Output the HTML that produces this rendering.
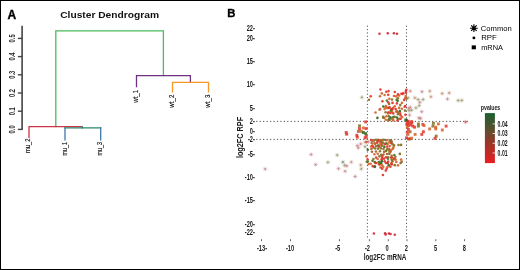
<!DOCTYPE html>
<html><head><meta charset="utf-8"><style>
html,body{margin:0;padding:0;background:#fff;}
svg{display:block;font-family:"Liberation Sans", sans-serif;will-change:transform;}
</style></head><body>
<svg width="520" height="270" viewBox="0 0 520 270">
<rect x="0" y="0" width="520" height="270" fill="#fff"/>
<text x="7.4" y="18.6" font-size="12" font-weight="bold" fill="#000" stroke="#000" stroke-width="0.35">A</text>
<text x="60.2" y="17.6" font-size="9.7" font-weight="bold" fill="#111" textLength="98.8" lengthAdjust="spacingAndGlyphs">Cluster Dendrogram</text>
<line x1="22.1" y1="25.7" x2="22.1" y2="130" stroke="#444" stroke-width="1.6"/>
<line x1="17.9" y1="129.4" x2="22.1" y2="129.4" stroke="#444" stroke-width="1.4"/>
<text transform="translate(15.4,129.4) rotate(-90) scale(0.68,1)" font-size="8.5" text-anchor="middle" font-weight="bold" fill="#2a2a2a" >0.0</text>
<line x1="17.9" y1="111.2" x2="22.1" y2="111.2" stroke="#444" stroke-width="1.4"/>
<text transform="translate(15.4,111.2) rotate(-90) scale(0.68,1)" font-size="8.5" text-anchor="middle" font-weight="bold" fill="#2a2a2a" >0.1</text>
<line x1="17.9" y1="93.0" x2="22.1" y2="93.0" stroke="#444" stroke-width="1.4"/>
<text transform="translate(15.4,93.0) rotate(-90) scale(0.68,1)" font-size="8.5" text-anchor="middle" font-weight="bold" fill="#2a2a2a" >0.2</text>
<line x1="17.9" y1="74.8" x2="22.1" y2="74.8" stroke="#444" stroke-width="1.4"/>
<text transform="translate(15.4,74.8) rotate(-90) scale(0.68,1)" font-size="8.5" text-anchor="middle" font-weight="bold" fill="#2a2a2a" >0.3</text>
<line x1="17.9" y1="56.6" x2="22.1" y2="56.6" stroke="#444" stroke-width="1.4"/>
<text transform="translate(15.4,56.6) rotate(-90) scale(0.68,1)" font-size="8.5" text-anchor="middle" font-weight="bold" fill="#2a2a2a" >0.4</text>
<line x1="17.9" y1="38.4" x2="22.1" y2="38.4" stroke="#444" stroke-width="1.4"/>
<text transform="translate(15.4,38.4) rotate(-90) scale(0.68,1)" font-size="8.5" text-anchor="middle" font-weight="bold" fill="#2a2a2a" >0.5</text>
<path d="M55.8,126.6 L55.8,30.8 L163.4,30.8 L163.4,75.6" fill="none" stroke="#4cba5d" stroke-width="1.3" stroke-linecap="square" stroke-linejoin="miter"/>
<path d="M29,137.3 L29,126.6 L82.2,126.6" fill="none" stroke="#cd3447" stroke-width="1.3" stroke-linecap="square" stroke-linejoin="miter"/>
<path d="M82.2,126.6 L82.2,127.8" fill="none" stroke="#2d8769" stroke-width="1.3" stroke-linecap="square" stroke-linejoin="miter"/>
<path d="M65,127.8 L100.7,127.8" fill="none" stroke="#2d8769" stroke-width="1.3" stroke-linecap="square" stroke-linejoin="miter"/>
<path d="M65,127.8 L65,139.8" fill="none" stroke="#3c78aa" stroke-width="1.3" stroke-linecap="square" stroke-linejoin="miter"/>
<path d="M100.7,127.8 L100.7,139.8" fill="none" stroke="#3c78aa" stroke-width="1.3" stroke-linecap="square" stroke-linejoin="miter"/>
<path d="M136.5,86.6 L136.5,75.6 L190.4,75.6 L190.4,82.4" fill="none" stroke="#6e3282" stroke-width="1.3" stroke-linecap="square" stroke-linejoin="miter"/>
<path d="M172.5,91.9 L172.5,82.4 L208.5,82.4 L208.5,91.9" fill="none" stroke="#f59628" stroke-width="1.3" stroke-linecap="square" stroke-linejoin="miter"/>
<text transform="translate(30.099999999999998,138.5) rotate(-90)" font-size="7.5" text-anchor="end" fill="#111" stroke="#111" stroke-width="0.15" textLength="14.5" lengthAdjust="spacingAndGlyphs">mu_2</text>
<text transform="translate(66.5,141.9) rotate(-90)" font-size="7.5" text-anchor="end" fill="#111" stroke="#111" stroke-width="0.15" textLength="13.7" lengthAdjust="spacingAndGlyphs">mu_1</text>
<text transform="translate(102.2,141.9) rotate(-90)" font-size="7.5" text-anchor="end" fill="#111" stroke="#111" stroke-width="0.15" textLength="13.7" lengthAdjust="spacingAndGlyphs">mu_3</text>
<text transform="translate(137.9,89.9) rotate(-90)" font-size="7.5" text-anchor="end" fill="#111" stroke="#111" stroke-width="0.15" textLength="12.8" lengthAdjust="spacingAndGlyphs">wt_1</text>
<text transform="translate(173.8,94.7) rotate(-90)" font-size="7.5" text-anchor="end" fill="#111" stroke="#111" stroke-width="0.15" textLength="13.0" lengthAdjust="spacingAndGlyphs">wt_2</text>
<text transform="translate(209.8,94.7) rotate(-90)" font-size="7.5" text-anchor="end" fill="#111" stroke="#111" stroke-width="0.15" textLength="13.0" lengthAdjust="spacingAndGlyphs">wt_3</text>
<text x="227.2" y="16.9" font-size="11.3" font-weight="bold" fill="#000" stroke="#000" stroke-width="0.35">B</text>
<text transform="translate(254.9,30.900000000000002) scale(0.66,1)" font-size="8.6" text-anchor="end" font-weight="bold" fill="#1a1a1a" >22-</text>
<text transform="translate(254.9,40.800000000000004) scale(0.66,1)" font-size="8.6" text-anchor="end" font-weight="bold" fill="#1a1a1a" >20-</text>
<text transform="translate(254.9,63.6) scale(0.66,1)" font-size="8.6" text-anchor="end" font-weight="bold" fill="#1a1a1a" >15-</text>
<text transform="translate(254.9,86.6) scale(0.66,1)" font-size="8.6" text-anchor="end" font-weight="bold" fill="#1a1a1a" >10-</text>
<text transform="translate(254.9,110.5) scale(0.66,1)" font-size="8.6" text-anchor="end" font-weight="bold" fill="#1a1a1a" >5-</text>
<text transform="translate(254.9,123.89999999999999) scale(0.66,1)" font-size="8.6" text-anchor="end" font-weight="bold" fill="#1a1a1a" >2-</text>
<text transform="translate(254.9,134.29999999999998) scale(0.66,1)" font-size="8.6" text-anchor="end" font-weight="bold" fill="#1a1a1a" >0-</text>
<text transform="translate(254.9,142.2) scale(0.66,1)" font-size="8.6" text-anchor="end" font-weight="bold" fill="#1a1a1a" >-2-</text>
<text transform="translate(254.9,157.0) scale(0.66,1)" font-size="8.6" text-anchor="end" font-weight="bold" fill="#1a1a1a" >-5-</text>
<text transform="translate(254.9,180.0) scale(0.66,1)" font-size="8.6" text-anchor="end" font-weight="bold" fill="#1a1a1a" >-10-</text>
<text transform="translate(254.9,203.2) scale(0.66,1)" font-size="8.6" text-anchor="end" font-weight="bold" fill="#1a1a1a" >-15-</text>
<text transform="translate(254.9,226.5) scale(0.66,1)" font-size="8.6" text-anchor="end" font-weight="bold" fill="#1a1a1a" >-20-</text>
<text transform="translate(254.9,235.4) scale(0.66,1)" font-size="8.6" text-anchor="end" font-weight="bold" fill="#1a1a1a" >-22-</text>
<text x="363.7" y="259.6" font-size="9.8" font-weight="bold" fill="#1a1a1a" textLength="42.6" lengthAdjust="spacingAndGlyphs">log2FC mRNA</text>
<text transform="translate(243.3,158.1) rotate(-90)" font-size="9.6" font-weight="bold" fill="#1a1a1a" textLength="41.2" lengthAdjust="spacingAndGlyphs">log2FC RPF</text>
<line x1="261.5" y1="239.2" x2="261.5" y2="241.2" stroke="#555" stroke-width="0.9"/>
<text transform="translate(262.0,251.0) scale(0.66,1)" font-size="8.6" text-anchor="middle" font-weight="bold" fill="#1a1a1a" >-13-</text>
<line x1="290.5" y1="239.2" x2="290.5" y2="241.2" stroke="#555" stroke-width="0.9"/>
<text transform="translate(290.0,251.0) scale(0.66,1)" font-size="8.6" text-anchor="middle" font-weight="bold" fill="#1a1a1a" >-10</text>
<line x1="339.5" y1="239.2" x2="339.5" y2="241.2" stroke="#555" stroke-width="0.9"/>
<text transform="translate(337.7,251.0) scale(0.66,1)" font-size="8.6" text-anchor="middle" font-weight="bold" fill="#1a1a1a" >-5</text>
<line x1="369.4" y1="239.2" x2="369.4" y2="241.2" stroke="#555" stroke-width="0.9"/>
<text transform="translate(367.4,251.0) scale(0.66,1)" font-size="8.6" text-anchor="middle" font-weight="bold" fill="#1a1a1a" >-2</text>
<line x1="388.3" y1="239.2" x2="388.3" y2="241.2" stroke="#555" stroke-width="0.9"/>
<text transform="translate(387.1,251.0) scale(0.66,1)" font-size="8.6" text-anchor="middle" font-weight="bold" fill="#1a1a1a" >0</text>
<line x1="407.0" y1="239.2" x2="407.0" y2="241.2" stroke="#555" stroke-width="0.9"/>
<text transform="translate(406.4,251.0) scale(0.66,1)" font-size="8.6" text-anchor="middle" font-weight="bold" fill="#1a1a1a" >2</text>
<line x1="435.8" y1="239.2" x2="435.8" y2="241.2" stroke="#555" stroke-width="0.9"/>
<text transform="translate(435.6,251.0) scale(0.66,1)" font-size="8.6" text-anchor="middle" font-weight="bold" fill="#1a1a1a" >5</text>
<line x1="464.6" y1="239.2" x2="464.6" y2="241.2" stroke="#555" stroke-width="0.9"/>
<text transform="translate(464.4,251.0) scale(0.66,1)" font-size="8.6" text-anchor="middle" font-weight="bold" fill="#1a1a1a" >8</text>
<line x1="367.4" y1="25.6" x2="367.4" y2="238" stroke="#444" stroke-width="0.95" stroke-dasharray="1.1 2.3"/>
<line x1="406.5" y1="25.6" x2="406.5" y2="238" stroke="#444" stroke-width="0.95" stroke-dasharray="1.1 2.3"/>
<line x1="256.2" y1="121.4" x2="468" y2="121.4" stroke="#444" stroke-width="0.95" stroke-dasharray="1.2 2.25"/>
<line x1="256.2" y1="139.4" x2="470" y2="139.4" stroke="#444" stroke-width="0.95" stroke-dasharray="1.2 2.25"/>
<path d="M470.00,28.20L477.80,28.20M471.14,25.44L476.66,30.96M473.90,24.30L473.90,32.10M476.66,25.44L471.14,30.96" stroke="#000" stroke-width="1.15" fill="none" opacity="1"/>
<circle cx="473.9" cy="28.2" r="1.6" fill="#000"/>
<circle cx="473.9" cy="37.9" r="1.45" fill="#000"/>
<rect x="471.7" y="45.4" width="4.2" height="3.9" fill="#000"/>
<text x="480.8" y="30.7" font-size="7.4" fill="#000" textLength="31" lengthAdjust="spacingAndGlyphs">Common</text>
<text x="481.2" y="39.9" font-size="7.2" fill="#000" textLength="15.6" lengthAdjust="spacingAndGlyphs">RPF</text>
<text x="481.2" y="49.8" font-size="7.2" fill="#000" textLength="21.8" lengthAdjust="spacingAndGlyphs">mRNA</text>
<defs><linearGradient id="cb" x1="0" y1="0" x2="0" y2="1"><stop offset="0" stop-color="#1a6030"/><stop offset="0.4" stop-color="#694b2d"/><stop offset="0.58" stop-color="#963728"/><stop offset="1" stop-color="#ea1c22"/></linearGradient></defs>
<rect x="484.9" y="113.1" width="10" height="50" fill="url(#cb)"/>
<line x1="492.6" y1="123.9" x2="494.9" y2="123.9" stroke="#fff" stroke-width="0.8"/>
<text transform="translate(497.6,126.65) scale(0.62,1)" font-size="8.3" text-anchor="start" font-weight="bold" fill="#1a1a1a" >0.04</text>
<line x1="492.6" y1="133.5" x2="494.9" y2="133.5" stroke="#fff" stroke-width="0.8"/>
<text transform="translate(497.6,136.25) scale(0.62,1)" font-size="8.3" text-anchor="start" font-weight="bold" fill="#1a1a1a" >0.03</text>
<line x1="492.6" y1="143.3" x2="494.9" y2="143.3" stroke="#fff" stroke-width="0.8"/>
<text transform="translate(497.6,146.05) scale(0.62,1)" font-size="8.3" text-anchor="start" font-weight="bold" fill="#1a1a1a" >0.02</text>
<line x1="492.6" y1="153.0" x2="494.9" y2="153.0" stroke="#fff" stroke-width="0.8"/>
<text transform="translate(497.6,155.75) scale(0.62,1)" font-size="8.3" text-anchor="start" font-weight="bold" fill="#1a1a1a" >0.01</text>
<text transform="translate(480.8,109.7) scale(0.68,1)" font-size="7.7" text-anchor="start" font-weight="bold" fill="#1a1a1a" >pvalues</text>
<path d="M359.60,97.30L364.20,97.30M360.27,95.67L363.53,98.93M361.90,95.00L361.90,99.60M363.53,95.67L360.27,98.93" stroke="#8a8a5a" stroke-width="0.75" fill="none" opacity="0.45"/>
<circle cx="361.9" cy="97.3" r="0.9" fill="#8a8a5a" opacity="0.45"/>
<path d="M408.00,91.10L412.60,91.10M408.67,89.47L411.93,92.73M410.30,88.80L410.30,93.40M411.93,89.47L408.67,92.73" stroke="#c0707a" stroke-width="0.75" fill="none" opacity="0.45"/>
<circle cx="410.3" cy="91.1" r="0.9" fill="#c0707a" opacity="0.45"/>
<path d="M405.80,97.80L410.40,97.80M406.47,96.17L409.73,99.43M408.10,95.50L408.10,100.10M409.73,96.17L406.47,99.43" stroke="#8a8a5a" stroke-width="0.75" fill="none" opacity="0.45"/>
<circle cx="408.1" cy="97.8" r="0.9" fill="#8a8a5a" opacity="0.45"/>
<path d="M412.50,97.80L417.10,97.80M413.17,96.17L416.43,99.43M414.80,95.50L414.80,100.10M416.43,96.17L413.17,99.43" stroke="#b88058" stroke-width="0.75" fill="none" opacity="0.45"/>
<circle cx="414.8" cy="97.8" r="0.9" fill="#b88058" opacity="0.45"/>
<path d="M415.80,99.50L420.40,99.50M416.47,97.87L419.73,101.13M418.10,97.20L418.10,101.80M419.73,97.87L416.47,101.13" stroke="#8a8a5a" stroke-width="0.75" fill="none" opacity="0.45"/>
<circle cx="418.1" cy="99.5" r="0.9" fill="#8a8a5a" opacity="0.45"/>
<path d="M419.70,91.70L424.30,91.70M420.37,90.07L423.63,93.33M422.00,89.40L422.00,94.00M423.63,90.07L420.37,93.33" stroke="#c0707a" stroke-width="0.75" fill="none" opacity="0.45"/>
<circle cx="422" cy="91.7" r="0.9" fill="#c0707a" opacity="0.45"/>
<path d="M420.80,99.50L425.40,99.50M421.47,97.87L424.73,101.13M423.10,97.20L423.10,101.80M424.73,97.87L421.47,101.13" stroke="#8a8a5a" stroke-width="0.75" fill="none" opacity="0.45"/>
<circle cx="423.1" cy="99.5" r="0.9" fill="#8a8a5a" opacity="0.45"/>
<path d="M427.50,91.10L432.10,91.10M428.17,89.47L431.43,92.73M429.80,88.80L429.80,93.40M431.43,89.47L428.17,92.73" stroke="#b88058" stroke-width="0.75" fill="none" opacity="0.45"/>
<circle cx="429.8" cy="91.1" r="0.9" fill="#b88058" opacity="0.45"/>
<path d="M428.60,96.70L433.20,96.70M429.27,95.07L432.53,98.33M430.90,94.40L430.90,99.00M432.53,95.07L429.27,98.33" stroke="#b88058" stroke-width="0.75" fill="none" opacity="0.45"/>
<circle cx="430.9" cy="96.7" r="0.9" fill="#b88058" opacity="0.45"/>
<path d="M439.90,93.50L444.50,93.50M440.57,91.87L443.83,95.13M442.20,91.20L442.20,95.80M443.83,91.87L440.57,95.13" stroke="#b88058" stroke-width="0.75" fill="none" opacity="0.45"/>
<circle cx="442.2" cy="93.5" r="0.9" fill="#b88058" opacity="0.45"/>
<path d="M417.50,102.30L422.10,102.30M418.17,100.67L421.43,103.93M419.80,100.00L419.80,104.60M421.43,100.67L418.17,103.93" stroke="#c0707a" stroke-width="0.75" fill="none" opacity="0.45"/>
<circle cx="419.8" cy="102.3" r="0.9" fill="#c0707a" opacity="0.45"/>
<path d="M416.90,105.60L421.50,105.60M417.57,103.97L420.83,107.23M419.20,103.30L419.20,107.90M420.83,103.97L417.57,107.23" stroke="#8a8a5a" stroke-width="0.75" fill="none" opacity="0.45"/>
<circle cx="419.2" cy="105.6" r="0.9" fill="#8a8a5a" opacity="0.45"/>
<path d="M413.60,107.90L418.20,107.90M414.27,106.27L417.53,109.53M415.90,105.60L415.90,110.20M417.53,106.27L414.27,109.53" stroke="#8a8a5a" stroke-width="0.75" fill="none" opacity="0.45"/>
<circle cx="415.9" cy="107.9" r="0.9" fill="#8a8a5a" opacity="0.45"/>
<path d="M408.00,107.30L412.60,107.30M408.67,105.67L411.93,108.93M410.30,105.00L410.30,109.60M411.93,105.67L408.67,108.93" stroke="#c0707a" stroke-width="0.75" fill="none" opacity="0.45"/>
<circle cx="410.3" cy="107.3" r="0.9" fill="#c0707a" opacity="0.45"/>
<path d="M406.30,108.40L410.90,108.40M406.97,106.77L410.23,110.03M408.60,106.10L408.60,110.70M410.23,106.77L406.97,110.03" stroke="#c0707a" stroke-width="0.75" fill="none" opacity="0.45"/>
<circle cx="408.6" cy="108.4" r="0.9" fill="#c0707a" opacity="0.45"/>
<path d="M446.90,92.90L451.50,92.90M447.57,91.27L450.83,94.53M449.20,90.60L449.20,95.20M450.83,91.27L447.57,94.53" stroke="#b88058" stroke-width="0.75" fill="none" opacity="0.45"/>
<circle cx="449.2" cy="92.9" r="0.9" fill="#b88058" opacity="0.45"/>
<path d="M445.20,99.00L449.80,99.00M445.87,97.37L449.13,100.63M447.50,96.70L447.50,101.30M449.13,97.37L445.87,100.63" stroke="#c0707a" stroke-width="0.75" fill="none" opacity="0.45"/>
<circle cx="447.5" cy="99" r="0.9" fill="#c0707a" opacity="0.45"/>
<path d="M455.90,100.50L460.50,100.50M456.57,98.87L459.83,102.13M458.20,98.20L458.20,102.80M459.83,98.87L456.57,102.13" stroke="#8a8a5a" stroke-width="0.75" fill="none" opacity="0.45"/>
<circle cx="458.2" cy="100.5" r="0.9" fill="#8a8a5a" opacity="0.45"/>
<path d="M459.50,100.40L464.10,100.40M460.17,98.77L463.43,102.03M461.80,98.10L461.80,102.70M463.43,98.77L460.17,102.03" stroke="#8a8a5a" stroke-width="0.75" fill="none" opacity="0.45"/>
<circle cx="461.8" cy="100.4" r="0.9" fill="#8a8a5a" opacity="0.45"/>
<path d="M419.40,111.70L424.00,111.70M420.07,110.07L423.33,113.33M421.70,109.40L421.70,114.00M423.33,110.07L420.07,113.33" stroke="#c0707a" stroke-width="0.75" fill="none" opacity="0.45"/>
<circle cx="421.7" cy="111.7" r="0.9" fill="#c0707a" opacity="0.45"/>
<path d="M418.30,118.40L422.90,118.40M418.97,116.77L422.23,120.03M420.60,116.10L420.60,120.70M422.23,116.77L418.97,120.03" stroke="#c0707a" stroke-width="0.75" fill="none" opacity="0.45"/>
<circle cx="420.6" cy="118.4" r="0.9" fill="#c0707a" opacity="0.45"/>
<path d="M463.30,122.00L467.90,122.00M463.97,120.37L467.23,123.63M465.60,119.70L465.60,124.30M467.23,120.37L463.97,123.63" stroke="#d03040" stroke-width="0.75" fill="none" opacity="0.45"/>
<circle cx="465.6" cy="122" r="0.9" fill="#d03040" opacity="0.45"/>
<path d="M406.80,110.60L411.40,110.60M407.47,108.97L410.73,112.23M409.10,108.30L409.10,112.90M410.73,108.97L407.47,112.23" stroke="#8a8a5a" stroke-width="0.75" fill="none" opacity="0.45"/>
<circle cx="409.1" cy="110.6" r="0.9" fill="#8a8a5a" opacity="0.45"/>
<path d="M409.30,110.20L413.90,110.20M409.97,108.57L413.23,111.83M411.60,107.90L411.60,112.50M413.23,108.57L409.97,111.83" stroke="#8a8a5a" stroke-width="0.75" fill="none" opacity="0.45"/>
<circle cx="411.6" cy="110.2" r="0.9" fill="#8a8a5a" opacity="0.45"/>
<path d="M407.20,115.10L411.80,115.10M407.87,113.47L411.13,116.73M409.50,112.80L409.50,117.40M411.13,113.47L407.87,116.73" stroke="#c0707a" stroke-width="0.75" fill="none" opacity="0.45"/>
<circle cx="409.5" cy="115.1" r="0.9" fill="#c0707a" opacity="0.45"/>
<path d="M416.60,117.90L421.20,117.90M417.27,116.27L420.53,119.53M418.90,115.60L418.90,120.20M420.53,116.27L417.27,119.53" stroke="#c0707a" stroke-width="0.75" fill="none" opacity="0.45"/>
<circle cx="418.9" cy="117.9" r="0.9" fill="#c0707a" opacity="0.45"/>
<path d="M358.40,143.90L363.00,143.90M359.07,142.27L362.33,145.53M360.70,141.60L360.70,146.20M362.33,142.27L359.07,145.53" stroke="#c0707a" stroke-width="0.75" fill="none" opacity="0.45"/>
<circle cx="360.7" cy="143.9" r="0.9" fill="#c0707a" opacity="0.45"/>
<path d="M355.00,145.60L359.60,145.60M355.67,143.97L358.93,147.23M357.30,143.30L357.30,147.90M358.93,143.97L355.67,147.23" stroke="#c0707a" stroke-width="0.75" fill="none" opacity="0.45"/>
<circle cx="357.3" cy="145.6" r="0.9" fill="#c0707a" opacity="0.45"/>
<path d="M356.10,147.80L360.70,147.80M356.77,146.17L360.03,149.43M358.40,145.50L358.40,150.10M360.03,146.17L356.77,149.43" stroke="#c0707a" stroke-width="0.75" fill="none" opacity="0.45"/>
<circle cx="358.4" cy="147.8" r="0.9" fill="#c0707a" opacity="0.45"/>
<path d="M362.80,146.70L367.40,146.70M363.47,145.07L366.73,148.33M365.10,144.40L365.10,149.00M366.73,145.07L363.47,148.33" stroke="#8a8a5a" stroke-width="0.75" fill="none" opacity="0.45"/>
<circle cx="365.1" cy="146.7" r="0.9" fill="#8a8a5a" opacity="0.45"/>
<path d="M366.20,141.70L370.80,141.70M366.87,140.07L370.13,143.33M368.50,139.40L368.50,144.00M370.13,140.07L366.87,143.33" stroke="#c0707a" stroke-width="0.75" fill="none" opacity="0.45"/>
<circle cx="368.5" cy="141.7" r="0.9" fill="#c0707a" opacity="0.45"/>
<path d="M334.90,155.10L339.50,155.10M335.57,153.47L338.83,156.73M337.20,152.80L337.20,157.40M338.83,153.47L335.57,156.73" stroke="#8a8a5a" stroke-width="0.75" fill="none" opacity="0.45"/>
<circle cx="337.2" cy="155.1" r="0.9" fill="#8a8a5a" opacity="0.45"/>
<path d="M308.80,154.50L313.40,154.50M309.47,152.87L312.73,156.13M311.10,152.20L311.10,156.80M312.73,152.87L309.47,156.13" stroke="#c0707a" stroke-width="0.75" fill="none" opacity="0.45"/>
<circle cx="311.1" cy="154.5" r="0.9" fill="#c0707a" opacity="0.45"/>
<path d="M325.60,162.30L330.20,162.30M326.27,160.67L329.53,163.93M327.90,160.00L327.90,164.60M329.53,160.67L326.27,163.93" stroke="#8a8a5a" stroke-width="0.75" fill="none" opacity="0.45"/>
<circle cx="327.9" cy="162.3" r="0.9" fill="#8a8a5a" opacity="0.45"/>
<path d="M313.30,164.60L317.90,164.60M313.97,162.97L317.23,166.23M315.60,162.30L315.60,166.90M317.23,162.97L313.97,166.23" stroke="#c0707a" stroke-width="0.75" fill="none" opacity="0.45"/>
<circle cx="315.6" cy="164.6" r="0.9" fill="#c0707a" opacity="0.45"/>
<path d="M340.60,162.10L345.20,162.10M341.27,160.47L344.53,163.73M342.90,159.80L342.90,164.40M344.53,160.47L341.27,163.73" stroke="#5a7a4a" stroke-width="0.75" fill="none" opacity="0.45"/>
<circle cx="342.9" cy="162.1" r="0.9" fill="#5a7a4a" opacity="0.45"/>
<path d="M342.30,165.40L346.90,165.40M342.97,163.77L346.23,167.03M344.60,163.10L344.60,167.70M346.23,163.77L342.97,167.03" stroke="#8a8a5a" stroke-width="0.75" fill="none" opacity="0.45"/>
<circle cx="344.6" cy="165.4" r="0.9" fill="#8a8a5a" opacity="0.45"/>
<path d="M344.50,165.90L349.10,165.90M345.17,164.27L348.43,167.53M346.80,163.60L346.80,168.20M348.43,164.27L345.17,167.53" stroke="#c0707a" stroke-width="0.75" fill="none" opacity="0.45"/>
<circle cx="346.8" cy="165.9" r="0.9" fill="#c0707a" opacity="0.45"/>
<path d="M349.00,162.10L353.60,162.10M349.67,160.47L352.93,163.73M351.30,159.80L351.30,164.40M352.93,160.47L349.67,163.73" stroke="#b88058" stroke-width="0.75" fill="none" opacity="0.45"/>
<circle cx="351.3" cy="162.1" r="0.9" fill="#b88058" opacity="0.45"/>
<path d="M336.20,168.60L340.80,168.60M336.87,166.97L340.13,170.23M338.50,166.30L338.50,170.90M340.13,166.97L336.87,170.23" stroke="#c0707a" stroke-width="0.75" fill="none" opacity="0.45"/>
<circle cx="338.5" cy="168.6" r="0.9" fill="#c0707a" opacity="0.45"/>
<path d="M342.80,171.20L347.40,171.20M343.47,169.57L346.73,172.83M345.10,168.90L345.10,173.50M346.73,169.57L343.47,172.83" stroke="#c0707a" stroke-width="0.75" fill="none" opacity="0.45"/>
<circle cx="345.1" cy="171.2" r="0.9" fill="#c0707a" opacity="0.45"/>
<path d="M352.90,176.50L357.50,176.50M353.57,174.87L356.83,178.13M355.20,174.20L355.20,178.80M356.83,174.87L353.57,178.13" stroke="#c0707a" stroke-width="0.75" fill="none" opacity="0.45"/>
<circle cx="355.2" cy="176.5" r="0.9" fill="#c0707a" opacity="0.45"/>
<path d="M358.40,165.00L363.00,165.00M359.07,163.37L362.33,166.63M360.70,162.70L360.70,167.30M362.33,163.37L359.07,166.63" stroke="#b88058" stroke-width="0.75" fill="none" opacity="0.45"/>
<circle cx="360.7" cy="165" r="0.9" fill="#b88058" opacity="0.45"/>
<path d="M359.00,168.90L363.60,168.90M359.67,167.27L362.93,170.53M361.30,166.60L361.30,171.20M362.93,167.27L359.67,170.53" stroke="#8a8a5a" stroke-width="0.75" fill="none" opacity="0.45"/>
<circle cx="361.3" cy="168.9" r="0.9" fill="#8a8a5a" opacity="0.45"/>
<path d="M262.90,169.00L267.50,169.00M263.57,167.37L266.83,170.63M265.20,166.70L265.20,171.30M266.83,167.37L263.57,170.63" stroke="#c0707a" stroke-width="0.75" fill="none" opacity="0.45"/>
<circle cx="265.2" cy="169" r="0.9" fill="#c0707a" opacity="0.45"/>
<path d="M362.90,142.20L367.50,142.20M363.57,140.57L366.83,143.83M365.20,139.90L365.20,144.50M366.83,140.57L363.57,143.83" stroke="#b88058" stroke-width="0.75" fill="none" opacity="0.45"/>
<circle cx="365.2" cy="142.2" r="0.9" fill="#b88058" opacity="0.45"/>
<rect x="404.25" y="118.55" width="2.9" height="2.9" fill="#2f6422" opacity="0.85"/>
<rect x="405.85" y="120.75" width="2.9" height="2.9" fill="#e0352b" opacity="0.85"/>
<rect x="407.55" y="121.85" width="2.9" height="2.9" fill="#e0352b" opacity="0.85"/>
<rect x="410.35" y="121.35" width="2.9" height="2.9" fill="#e0352b" opacity="0.85"/>
<rect x="405.35" y="122.95" width="2.9" height="2.9" fill="#e0352b" opacity="0.85"/>
<rect x="406.95" y="124.15" width="2.9" height="2.9" fill="#e0352b" opacity="0.85"/>
<rect x="409.25" y="123.55" width="2.9" height="2.9" fill="#e0352b" opacity="0.85"/>
<rect x="411.45" y="124.65" width="2.9" height="2.9" fill="#e0352b" opacity="0.85"/>
<rect x="413.15" y="125.75" width="2.9" height="2.9" fill="#e0352b" opacity="0.85"/>
<rect x="405.85" y="125.75" width="2.9" height="2.9" fill="#d6622c" opacity="0.85"/>
<rect x="406.95" y="127.95" width="2.9" height="2.9" fill="#e0352b" opacity="0.85"/>
<rect x="408.65" y="130.25" width="2.9" height="2.9" fill="#a8602a" opacity="0.85"/>
<rect x="405.85" y="130.75" width="2.9" height="2.9" fill="#e0352b" opacity="0.85"/>
<rect x="406.45" y="132.95" width="2.9" height="2.9" fill="#d6622c" opacity="0.85"/>
<rect x="413.65" y="132.95" width="2.9" height="2.9" fill="#d6622c" opacity="0.85"/>
<rect x="416.95" y="122.45" width="2.9" height="2.9" fill="#827024" opacity="0.85"/>
<rect x="416.95" y="124.65" width="2.9" height="2.9" fill="#827024" opacity="0.85"/>
<rect x="421.45" y="122.95" width="2.9" height="2.9" fill="#e0352b" opacity="0.85"/>
<rect x="422.55" y="124.15" width="2.9" height="2.9" fill="#d6622c" opacity="0.85"/>
<rect x="421.95" y="130.25" width="2.9" height="2.9" fill="#e0352b" opacity="0.85"/>
<rect x="420.35" y="132.95" width="2.9" height="2.9" fill="#e0352b" opacity="0.85"/>
<rect x="428.15" y="127.45" width="2.9" height="2.9" fill="#d6622c" opacity="0.85"/>
<rect x="431.95" y="121.85" width="2.9" height="2.9" fill="#827024" opacity="0.85"/>
<rect x="431.45" y="124.65" width="2.9" height="2.9" fill="#827024" opacity="0.85"/>
<rect x="434.25" y="125.75" width="2.9" height="2.9" fill="#d6622c" opacity="0.85"/>
<rect x="436.95" y="122.45" width="2.9" height="2.9" fill="#d6622c" opacity="0.85"/>
<rect x="434.25" y="127.45" width="2.9" height="2.9" fill="#d6622c" opacity="0.85"/>
<rect x="440.85" y="128.55" width="2.9" height="2.9" fill="#d6622c" opacity="0.85"/>
<rect x="434.75" y="134.65" width="2.9" height="2.9" fill="#827024" opacity="0.85"/>
<rect x="433.65" y="136.85" width="2.9" height="2.9" fill="#e0352b" opacity="0.85"/>
<rect x="408.65" y="137.45" width="2.9" height="2.9" fill="#827024" opacity="0.85"/>
<rect x="406.95" y="137.45" width="2.9" height="2.9" fill="#e0352b" opacity="0.85"/>
<rect x="444.65" y="124.65" width="2.9" height="2.9" fill="#e0352b" opacity="0.85"/>
<rect x="406.85" y="119.75" width="2.9" height="2.9" fill="#e0352b" opacity="0.85"/>
<rect x="410.15" y="120.15" width="2.9" height="2.9" fill="#e0352b" opacity="0.85"/>
<rect x="405.05" y="136.35" width="2.9" height="2.9" fill="#e0352b" opacity="0.85"/>
<rect x="410.05" y="136.75" width="2.9" height="2.9" fill="#d6622c" opacity="0.85"/>
<rect x="364.25" y="120.45" width="2.9" height="2.9" fill="#e0352b" opacity="0.85"/>
<rect x="358.05" y="124.35" width="2.9" height="2.9" fill="#827024" opacity="0.85"/>
<rect x="358.05" y="127.15" width="2.9" height="2.9" fill="#e0352b" opacity="0.85"/>
<rect x="361.95" y="126.55" width="2.9" height="2.9" fill="#d6622c" opacity="0.85"/>
<rect x="364.75" y="127.15" width="2.9" height="2.9" fill="#e0352b" opacity="0.85"/>
<rect x="356.95" y="129.95" width="2.9" height="2.9" fill="#a8602a" opacity="0.85"/>
<rect x="359.75" y="129.95" width="2.9" height="2.9" fill="#d6622c" opacity="0.85"/>
<rect x="361.95" y="131.05" width="2.9" height="2.9" fill="#2f6422" opacity="0.85"/>
<rect x="364.25" y="132.15" width="2.9" height="2.9" fill="#2f6422" opacity="0.85"/>
<rect x="344.75" y="131.05" width="2.9" height="2.9" fill="#e0352b" opacity="0.85"/>
<rect x="345.25" y="132.75" width="2.9" height="2.9" fill="#e0352b" opacity="0.85"/>
<rect x="355.35" y="133.85" width="2.9" height="2.9" fill="#e0352b" opacity="0.85"/>
<rect x="364.75" y="134.95" width="2.9" height="2.9" fill="#e0352b" opacity="0.85"/>
<rect x="355.85" y="135.75" width="2.9" height="2.9" fill="#e0352b" opacity="0.85"/>
<rect x="363.65" y="136.35" width="2.9" height="2.9" fill="#e0352b" opacity="0.85"/>
<circle cx="391.39" cy="142.02" r="1.3" fill="#827024" opacity="0.92"/>
<circle cx="383.45" cy="154.58" r="1.3" fill="#a8602a" opacity="0.92"/>
<circle cx="398.53" cy="144.93" r="1.3" fill="#827024" opacity="0.92"/>
<circle cx="391.13" cy="142.93" r="1.3" fill="#e0352b" opacity="0.92"/>
<circle cx="394.68" cy="159.29" r="1.3" fill="#e0352b" opacity="0.92"/>
<circle cx="399.10" cy="107.90" r="1.3" fill="#d6622c" opacity="0.92"/>
<circle cx="384.96" cy="144.09" r="1.3" fill="#e0352b" opacity="0.92"/>
<circle cx="406.70" cy="120.00" r="1.3" fill="#2f6422" opacity="0.92"/>
<circle cx="392.00" cy="99.50" r="1.3" fill="#827024" opacity="0.92"/>
<circle cx="394.07" cy="145.41" r="1.3" fill="#827024" opacity="0.92"/>
<circle cx="386.68" cy="168.66" r="1.3" fill="#e0352b" opacity="0.92"/>
<circle cx="393.39" cy="147.40" r="1.3" fill="#d6622c" opacity="0.92"/>
<circle cx="406.40" cy="98.70" r="1.3" fill="#827024" opacity="0.92"/>
<circle cx="371.01" cy="146.45" r="1.3" fill="#d6622c" opacity="0.92"/>
<circle cx="388.00" cy="120.40" r="1.3" fill="#d6622c" opacity="0.92"/>
<circle cx="392.80" cy="108.60" r="1.3" fill="#e0352b" opacity="0.92"/>
<circle cx="405.70" cy="96.00" r="1.3" fill="#d6622c" opacity="0.92"/>
<circle cx="376.11" cy="157.58" r="1.3" fill="#e0352b" opacity="0.92"/>
<circle cx="390.67" cy="151.59" r="1.3" fill="#a8602a" opacity="0.92"/>
<circle cx="384.60" cy="95.00" r="1.3" fill="#d6622c" opacity="0.92"/>
<circle cx="380.40" cy="89.50" r="1.3" fill="#e0352b" opacity="0.92"/>
<circle cx="368.63" cy="164.12" r="1.3" fill="#d6622c" opacity="0.92"/>
<circle cx="379.83" cy="164.39" r="1.3" fill="#d6622c" opacity="0.92"/>
<circle cx="384.27" cy="117.78" r="1.3" fill="#d6622c" opacity="0.92"/>
<circle cx="381.08" cy="163.28" r="1.3" fill="#2f6422" opacity="0.92"/>
<circle cx="405.30" cy="98.00" r="1.3" fill="#d6622c" opacity="0.92"/>
<circle cx="381.63" cy="159.56" r="1.3" fill="#e0352b" opacity="0.92"/>
<circle cx="402.20" cy="117.10" r="1.3" fill="#d6622c" opacity="0.92"/>
<circle cx="379.60" cy="109.70" r="1.3" fill="#d6622c" opacity="0.92"/>
<circle cx="402.50" cy="93.90" r="1.3" fill="#e0352b" opacity="0.92"/>
<circle cx="381.18" cy="154.76" r="1.3" fill="#827024" opacity="0.92"/>
<circle cx="394.00" cy="96.00" r="1.3" fill="#d6622c" opacity="0.92"/>
<circle cx="399.88" cy="153.90" r="1.3" fill="#827024" opacity="0.92"/>
<circle cx="388.21" cy="157.28" r="1.3" fill="#827024" opacity="0.92"/>
<circle cx="379.96" cy="151.26" r="1.3" fill="#827024" opacity="0.92"/>
<circle cx="387.93" cy="158.63" r="1.3" fill="#517626" opacity="0.92"/>
<circle cx="378.49" cy="139.80" r="1.3" fill="#a8602a" opacity="0.92"/>
<circle cx="388.80" cy="116.30" r="1.3" fill="#517626" opacity="0.92"/>
<circle cx="382.40" cy="101.20" r="1.3" fill="#e0352b" opacity="0.92"/>
<circle cx="389.60" cy="107.30" r="1.3" fill="#e0352b" opacity="0.92"/>
<circle cx="381.99" cy="158.42" r="1.3" fill="#e0352b" opacity="0.92"/>
<circle cx="383.28" cy="117.70" r="1.3" fill="#827024" opacity="0.92"/>
<circle cx="405.40" cy="114.70" r="1.3" fill="#e0352b" opacity="0.92"/>
<circle cx="378.21" cy="145.59" r="1.3" fill="#2f6422" opacity="0.92"/>
<circle cx="378.99" cy="164.30" r="1.3" fill="#e0352b" opacity="0.92"/>
<circle cx="375.23" cy="144.10" r="1.3" fill="#d6622c" opacity="0.92"/>
<circle cx="387.48" cy="144.40" r="1.3" fill="#d6622c" opacity="0.92"/>
<circle cx="392.52" cy="144.13" r="1.3" fill="#827024" opacity="0.92"/>
<circle cx="374.41" cy="143.12" r="1.3" fill="#a8602a" opacity="0.92"/>
<circle cx="389.03" cy="142.50" r="1.3" fill="#d6622c" opacity="0.92"/>
<circle cx="371.95" cy="140.49" r="1.3" fill="#827024" opacity="0.92"/>
<circle cx="371.25" cy="139.94" r="1.3" fill="#e0352b" opacity="0.92"/>
<circle cx="398.14" cy="119.14" r="1.3" fill="#517626" opacity="0.92"/>
<circle cx="394.07" cy="158.61" r="1.3" fill="#e0352b" opacity="0.92"/>
<circle cx="397.60" cy="112.20" r="1.3" fill="#a8602a" opacity="0.92"/>
<circle cx="388.82" cy="165.34" r="1.3" fill="#2f6422" opacity="0.92"/>
<circle cx="392.22" cy="157.46" r="1.3" fill="#d6622c" opacity="0.92"/>
<circle cx="366.77" cy="161.72" r="1.3" fill="#517626" opacity="0.92"/>
<circle cx="380.61" cy="140.33" r="1.3" fill="#d6622c" opacity="0.92"/>
<circle cx="386.06" cy="151.04" r="1.3" fill="#517626" opacity="0.92"/>
<circle cx="392.10" cy="118.70" r="1.3" fill="#d6622c" opacity="0.92"/>
<circle cx="390.39" cy="166.76" r="1.3" fill="#e0352b" opacity="0.92"/>
<circle cx="372.40" cy="140.56" r="1.3" fill="#d6622c" opacity="0.92"/>
<circle cx="375.91" cy="139.81" r="1.3" fill="#827024" opacity="0.92"/>
<circle cx="372.73" cy="166.17" r="1.3" fill="#e0352b" opacity="0.92"/>
<circle cx="367.89" cy="161.49" r="1.3" fill="#517626" opacity="0.92"/>
<circle cx="399.82" cy="111.12" r="1.3" fill="#2f6422" opacity="0.92"/>
<circle cx="377.39" cy="141.02" r="1.3" fill="#827024" opacity="0.92"/>
<circle cx="385.70" cy="107.30" r="1.3" fill="#d6622c" opacity="0.92"/>
<circle cx="404.10" cy="99.90" r="1.3" fill="#e0352b" opacity="0.92"/>
<circle cx="394.75" cy="165.15" r="1.3" fill="#827024" opacity="0.92"/>
<circle cx="405.00" cy="110.60" r="1.3" fill="#827024" opacity="0.92"/>
<circle cx="394.70" cy="116.89" r="1.3" fill="#827024" opacity="0.92"/>
<circle cx="391.72" cy="164.43" r="1.3" fill="#e0352b" opacity="0.92"/>
<circle cx="372.48" cy="145.51" r="1.3" fill="#e0352b" opacity="0.92"/>
<circle cx="381.47" cy="142.67" r="1.3" fill="#e0352b" opacity="0.92"/>
<circle cx="397.90" cy="98.30" r="1.3" fill="#827024" opacity="0.92"/>
<circle cx="395.35" cy="156.76" r="1.3" fill="#827024" opacity="0.92"/>
<circle cx="380.61" cy="167.43" r="1.3" fill="#e0352b" opacity="0.92"/>
<circle cx="391.43" cy="141.82" r="1.3" fill="#a8602a" opacity="0.92"/>
<circle cx="366.27" cy="142.08" r="1.3" fill="#d6622c" opacity="0.92"/>
<circle cx="405.80" cy="91.10" r="1.3" fill="#e0352b" opacity="0.92"/>
<circle cx="379.31" cy="156.35" r="1.3" fill="#827024" opacity="0.92"/>
<circle cx="405.30" cy="106.00" r="1.3" fill="#e0352b" opacity="0.92"/>
<circle cx="401.68" cy="161.64" r="1.3" fill="#a8602a" opacity="0.92"/>
<circle cx="382.22" cy="168.63" r="1.3" fill="#e0352b" opacity="0.92"/>
<circle cx="381.37" cy="141.07" r="1.3" fill="#827024" opacity="0.92"/>
<circle cx="394.80" cy="92.00" r="1.3" fill="#e0352b" opacity="0.92"/>
<circle cx="383.00" cy="139.89" r="1.3" fill="#a8602a" opacity="0.92"/>
<circle cx="373.40" cy="158.93" r="1.3" fill="#827024" opacity="0.92"/>
<circle cx="400.30" cy="105.10" r="1.3" fill="#827024" opacity="0.92"/>
<circle cx="383.10" cy="116.70" r="1.3" fill="#827024" opacity="0.92"/>
<circle cx="392.10" cy="109.80" r="1.3" fill="#e0352b" opacity="0.92"/>
<circle cx="383.30" cy="106.50" r="1.3" fill="#2f6422" opacity="0.92"/>
<circle cx="399.70" cy="118.70" r="1.3" fill="#d6622c" opacity="0.92"/>
<circle cx="385.60" cy="112.20" r="1.3" fill="#827024" opacity="0.92"/>
<circle cx="380.20" cy="144.62" r="1.3" fill="#d6622c" opacity="0.92"/>
<circle cx="386.90" cy="100.60" r="1.3" fill="#517626" opacity="0.92"/>
<circle cx="393.30" cy="107.70" r="1.3" fill="#d6622c" opacity="0.92"/>
<circle cx="392.50" cy="102.90" r="1.3" fill="#e0352b" opacity="0.92"/>
<circle cx="385.77" cy="170.62" r="1.3" fill="#e0352b" opacity="0.92"/>
<circle cx="391.12" cy="140.43" r="1.3" fill="#827024" opacity="0.92"/>
<circle cx="369.00" cy="99.80" r="1.3" fill="#827024" opacity="0.92"/>
<circle cx="385.44" cy="139.99" r="1.3" fill="#517626" opacity="0.92"/>
<circle cx="391.17" cy="157.52" r="1.3" fill="#e0352b" opacity="0.92"/>
<circle cx="376.01" cy="146.28" r="1.3" fill="#827024" opacity="0.92"/>
<circle cx="398.02" cy="114.13" r="1.3" fill="#827024" opacity="0.92"/>
<circle cx="373.30" cy="147.41" r="1.3" fill="#e0352b" opacity="0.92"/>
<circle cx="386.00" cy="106.10" r="1.3" fill="#d6622c" opacity="0.92"/>
<circle cx="377.10" cy="142.84" r="1.3" fill="#e0352b" opacity="0.92"/>
<circle cx="391.30" cy="109.00" r="1.3" fill="#e0352b" opacity="0.92"/>
<circle cx="392.98" cy="148.72" r="1.3" fill="#d6622c" opacity="0.92"/>
<circle cx="401.90" cy="108.80" r="1.3" fill="#d6622c" opacity="0.92"/>
<circle cx="382.33" cy="144.74" r="1.3" fill="#a8602a" opacity="0.92"/>
<circle cx="367.68" cy="159.51" r="1.3" fill="#e0352b" opacity="0.92"/>
<circle cx="372.52" cy="160.79" r="1.3" fill="#517626" opacity="0.92"/>
<circle cx="375.50" cy="112.50" r="1.3" fill="#d6622c" opacity="0.92"/>
<circle cx="387.20" cy="108.10" r="1.3" fill="#d6622c" opacity="0.92"/>
<circle cx="374.90" cy="166.31" r="1.3" fill="#827024" opacity="0.92"/>
<circle cx="403.30" cy="93.30" r="1.3" fill="#e0352b" opacity="0.92"/>
<circle cx="389.34" cy="153.85" r="1.3" fill="#517626" opacity="0.92"/>
<circle cx="394.70" cy="106.20" r="1.3" fill="#d6622c" opacity="0.92"/>
<circle cx="379.61" cy="161.69" r="1.3" fill="#517626" opacity="0.92"/>
<circle cx="390.50" cy="117.50" r="1.3" fill="#2f6422" opacity="0.92"/>
<circle cx="378.61" cy="140.70" r="1.3" fill="#e0352b" opacity="0.92"/>
<circle cx="391.62" cy="162.94" r="1.3" fill="#d6622c" opacity="0.92"/>
<circle cx="391.67" cy="159.45" r="1.3" fill="#827024" opacity="0.92"/>
<circle cx="387.57" cy="163.29" r="1.3" fill="#2f6422" opacity="0.92"/>
<circle cx="404.70" cy="106.80" r="1.3" fill="#e0352b" opacity="0.92"/>
<circle cx="386.30" cy="91.70" r="1.3" fill="#e0352b" opacity="0.92"/>
<circle cx="386.24" cy="143.22" r="1.3" fill="#517626" opacity="0.92"/>
<circle cx="401.13" cy="159.51" r="1.3" fill="#d6622c" opacity="0.92"/>
<circle cx="389.15" cy="148.96" r="1.3" fill="#a8602a" opacity="0.92"/>
<circle cx="400.60" cy="115.40" r="1.3" fill="#e0352b" opacity="0.92"/>
<circle cx="389.75" cy="140.38" r="1.3" fill="#a8602a" opacity="0.92"/>
<circle cx="388.60" cy="91.10" r="1.3" fill="#e0352b" opacity="0.92"/>
<circle cx="400.10" cy="113.40" r="1.3" fill="#e0352b" opacity="0.92"/>
<circle cx="375.94" cy="151.55" r="1.3" fill="#a8602a" opacity="0.92"/>
<circle cx="396.90" cy="103.40" r="1.3" fill="#e0352b" opacity="0.92"/>
<circle cx="386.69" cy="140.30" r="1.3" fill="#d6622c" opacity="0.92"/>
<circle cx="389.17" cy="118.74" r="1.3" fill="#517626" opacity="0.92"/>
<circle cx="380.36" cy="140.77" r="1.3" fill="#827024" opacity="0.92"/>
<circle cx="389.10" cy="104.00" r="1.3" fill="#827024" opacity="0.92"/>
<circle cx="371.72" cy="143.06" r="1.3" fill="#a8602a" opacity="0.92"/>
<circle cx="377.66" cy="159.03" r="1.3" fill="#d6622c" opacity="0.92"/>
<circle cx="386.06" cy="157.34" r="1.3" fill="#e0352b" opacity="0.92"/>
<circle cx="377.40" cy="117.90" r="1.3" fill="#2f6422" opacity="0.92"/>
<circle cx="383.01" cy="142.78" r="1.3" fill="#827024" opacity="0.92"/>
<circle cx="395.67" cy="159.51" r="1.3" fill="#d6622c" opacity="0.92"/>
<circle cx="379.13" cy="146.78" r="1.3" fill="#e0352b" opacity="0.92"/>
<circle cx="371.95" cy="151.77" r="1.3" fill="#a8602a" opacity="0.92"/>
<circle cx="387.45" cy="167.02" r="1.3" fill="#d6622c" opacity="0.92"/>
<circle cx="392.00" cy="111.87" r="1.3" fill="#d6622c" opacity="0.92"/>
<circle cx="382.07" cy="165.21" r="1.3" fill="#d6622c" opacity="0.92"/>
<circle cx="398.04" cy="165.37" r="1.3" fill="#d6622c" opacity="0.92"/>
<circle cx="390.75" cy="110.58" r="1.3" fill="#517626" opacity="0.92"/>
<circle cx="389.30" cy="98.70" r="1.3" fill="#d6622c" opacity="0.92"/>
<circle cx="406.00" cy="92.70" r="1.3" fill="#e0352b" opacity="0.92"/>
<circle cx="390.50" cy="113.00" r="1.3" fill="#e0352b" opacity="0.92"/>
<circle cx="387.02" cy="153.97" r="1.3" fill="#a8602a" opacity="0.92"/>
<circle cx="399.10" cy="95.60" r="1.3" fill="#d6622c" opacity="0.92"/>
<circle cx="392.57" cy="161.57" r="1.3" fill="#d6622c" opacity="0.92"/>
<circle cx="389.75" cy="146.09" r="1.3" fill="#d6622c" opacity="0.92"/>
<circle cx="387.27" cy="146.82" r="1.3" fill="#e0352b" opacity="0.92"/>
<circle cx="376.03" cy="163.05" r="1.3" fill="#e0352b" opacity="0.92"/>
<circle cx="384.13" cy="151.85" r="1.3" fill="#a8602a" opacity="0.92"/>
<circle cx="396.90" cy="117.50" r="1.3" fill="#2f6422" opacity="0.92"/>
<circle cx="396.37" cy="161.90" r="1.3" fill="#d6622c" opacity="0.92"/>
<circle cx="386.40" cy="116.30" r="1.3" fill="#d6622c" opacity="0.92"/>
<circle cx="388.20" cy="102.20" r="1.3" fill="#e0352b" opacity="0.92"/>
<circle cx="396.90" cy="111.40" r="1.3" fill="#a8602a" opacity="0.92"/>
<circle cx="380.87" cy="148.40" r="1.3" fill="#827024" opacity="0.92"/>
<circle cx="397.90" cy="94.40" r="1.3" fill="#e0352b" opacity="0.92"/>
<circle cx="378.09" cy="148.66" r="1.3" fill="#827024" opacity="0.92"/>
<circle cx="381.80" cy="93.40" r="1.3" fill="#d6622c" opacity="0.92"/>
<circle cx="401.90" cy="102.90" r="1.3" fill="#d6622c" opacity="0.92"/>
<circle cx="382.08" cy="156.33" r="1.3" fill="#e0352b" opacity="0.92"/>
<circle cx="381.96" cy="161.34" r="1.3" fill="#2f6422" opacity="0.92"/>
<circle cx="392.80" cy="119.60" r="1.3" fill="#d6622c" opacity="0.92"/>
<circle cx="378.61" cy="162.42" r="1.3" fill="#517626" opacity="0.92"/>
<circle cx="397.47" cy="120.44" r="1.3" fill="#e0352b" opacity="0.92"/>
<circle cx="397.70" cy="100.80" r="1.3" fill="#2f6422" opacity="0.92"/>
<circle cx="373.88" cy="140.51" r="1.3" fill="#a8602a" opacity="0.92"/>
<circle cx="388.60" cy="107.90" r="1.3" fill="#e0352b" opacity="0.92"/>
<circle cx="383.98" cy="158.64" r="1.3" fill="#e0352b" opacity="0.92"/>
<circle cx="367.73" cy="149.78" r="1.3" fill="#2f6422" opacity="0.92"/>
<circle cx="388.00" cy="113.40" r="1.3" fill="#d6622c" opacity="0.92"/>
<circle cx="401.06" cy="144.91" r="1.3" fill="#827024" opacity="0.92"/>
<circle cx="388.16" cy="161.67" r="1.3" fill="#e0352b" opacity="0.92"/>
<circle cx="374.66" cy="162.04" r="1.3" fill="#2f6422" opacity="0.92"/>
<circle cx="380.20" cy="109.00" r="1.3" fill="#d6622c" opacity="0.92"/>
<circle cx="393.20" cy="117.10" r="1.3" fill="#517626" opacity="0.92"/>
<circle cx="375.32" cy="162.85" r="1.3" fill="#e0352b" opacity="0.92"/>
<circle cx="375.19" cy="148.50" r="1.3" fill="#827024" opacity="0.92"/>
<circle cx="396.12" cy="111.47" r="1.3" fill="#d6622c" opacity="0.92"/>
<circle cx="379.82" cy="142.46" r="1.3" fill="#d6622c" opacity="0.92"/>
<circle cx="387.02" cy="149.38" r="1.3" fill="#827024" opacity="0.92"/>
<circle cx="384.32" cy="146.91" r="1.3" fill="#2f6422" opacity="0.92"/>
<circle cx="389.28" cy="150.65" r="1.3" fill="#827024" opacity="0.92"/>
<circle cx="382.90" cy="175.00" r="1.3" fill="#e0352b" opacity="0.92"/>
<circle cx="385.70" cy="119.70" r="1.3" fill="#d6622c" opacity="0.92"/>
<circle cx="393.30" cy="113.40" r="1.3" fill="#e0352b" opacity="0.92"/>
<circle cx="366.48" cy="156.41" r="1.3" fill="#d6622c" opacity="0.92"/>
<circle cx="391.29" cy="163.73" r="1.3" fill="#e0352b" opacity="0.92"/>
<circle cx="389.60" cy="120.00" r="1.3" fill="#517626" opacity="0.92"/>
<circle cx="374.66" cy="166.93" r="1.3" fill="#2f6422" opacity="0.92"/>
<circle cx="406.40" cy="89.80" r="1.3" fill="#e0352b" opacity="0.92"/>
<circle cx="400.67" cy="118.79" r="1.3" fill="#e0352b" opacity="0.92"/>
<circle cx="384.60" cy="109.10" r="1.3" fill="#d6622c" opacity="0.92"/>
<circle cx="371.35" cy="149.04" r="1.3" fill="#a8602a" opacity="0.92"/>
<circle cx="392.16" cy="160.74" r="1.3" fill="#827024" opacity="0.92"/>
<circle cx="386.02" cy="163.03" r="1.3" fill="#e0352b" opacity="0.92"/>
<circle cx="396.30" cy="96.40" r="1.3" fill="#d6622c" opacity="0.92"/>
<circle cx="389.67" cy="152.38" r="1.3" fill="#d6622c" opacity="0.92"/>
<circle cx="391.66" cy="155.76" r="1.3" fill="#a8602a" opacity="0.92"/>
<circle cx="396.70" cy="99.90" r="1.3" fill="#517626" opacity="0.92"/>
<circle cx="377.76" cy="153.76" r="1.3" fill="#d6622c" opacity="0.92"/>
<circle cx="391.47" cy="149.76" r="1.3" fill="#d6622c" opacity="0.92"/>
<circle cx="383.29" cy="166.68" r="1.3" fill="#d6622c" opacity="0.92"/>
<circle cx="401.40" cy="93.70" r="1.3" fill="#e0352b" opacity="0.92"/>
<circle cx="388.54" cy="112.26" r="1.3" fill="#e0352b" opacity="0.92"/>
<circle cx="381.67" cy="146.01" r="1.3" fill="#827024" opacity="0.92"/>
<circle cx="370.70" cy="96.20" r="1.3" fill="#e0352b" opacity="0.92"/>
<circle cx="395.70" cy="109.00" r="1.3" fill="#e0352b" opacity="0.92"/>
<circle cx="383.44" cy="148.98" r="1.3" fill="#a8602a" opacity="0.92"/>
<circle cx="393.30" cy="120.40" r="1.3" fill="#d6622c" opacity="0.92"/>
<circle cx="370.70" cy="163.69" r="1.3" fill="#d6622c" opacity="0.92"/>
<circle cx="374.38" cy="154.25" r="1.3" fill="#d6622c" opacity="0.92"/>
<circle cx="400.61" cy="163.09" r="1.3" fill="#827024" opacity="0.92"/>
<circle cx="380.00" cy="96.20" r="1.3" fill="#d6622c" opacity="0.92"/>
<circle cx="384.71" cy="161.38" r="1.3" fill="#e0352b" opacity="0.92"/>
<circle cx="388.20" cy="94.80" r="1.3" fill="#e0352b" opacity="0.92"/>
<circle cx="394.27" cy="154.93" r="1.3" fill="#517626" opacity="0.92"/>
<circle cx="379.50" cy="33.70" r="1.3" fill="#d02c3c" opacity="0.92"/>
<circle cx="387.80" cy="33.20" r="1.3" fill="#d02c3c" opacity="0.92"/>
<circle cx="393.90" cy="33.20" r="1.3" fill="#d02c3c" opacity="0.92"/>
<circle cx="397.00" cy="33.70" r="1.3" fill="#d02c3c" opacity="0.92"/>
<circle cx="373.90" cy="233.50" r="1.3" fill="#d02c3c" opacity="0.92"/>
<circle cx="385.10" cy="233.20" r="1.3" fill="#d02c3c" opacity="0.92"/>
<circle cx="385.60" cy="234.40" r="1.3" fill="#d02c3c" opacity="0.92"/>
<circle cx="388.90" cy="233.50" r="1.3" fill="#d02c3c" opacity="0.92"/>
<circle cx="390.50" cy="234.00" r="1.3" fill="#d02c3c" opacity="0.92"/>
<circle cx="394.80" cy="234.80" r="1.3" fill="#d02c3c" opacity="0.92"/>
<rect x="0.5" y="0.5" width="519" height="269" fill="none" stroke="#000" stroke-width="1"/>
</svg></body></html>
